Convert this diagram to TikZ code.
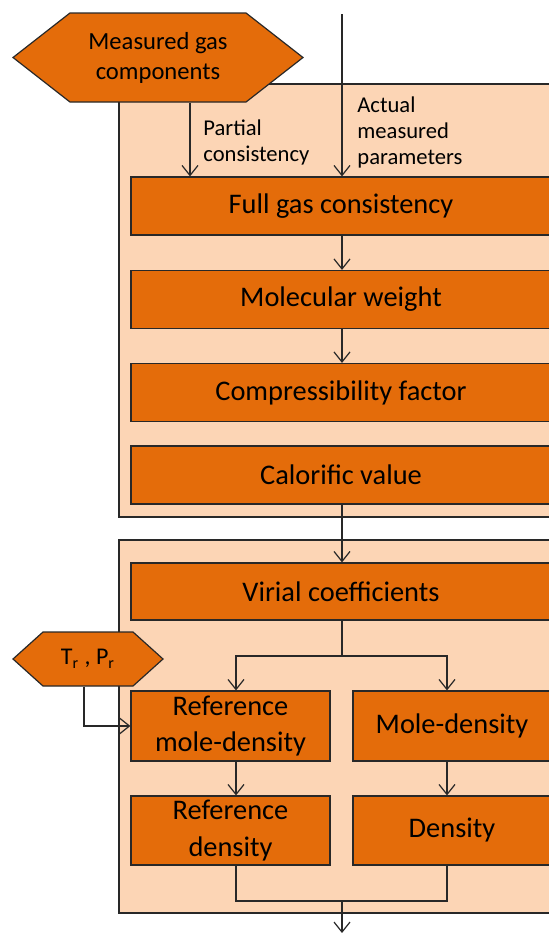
\documentclass[tikz,border=0pt]{standalone}
\usepackage{fontspec}
\setmainfont{Carlito}
\usetikzlibrary{arrows.meta,calc,positioning,shapes.symbols}
\definecolor{gasorange}{RGB}{228,108,10}
\definecolor{gaspeach}{RGB}{252,213,181}
\definecolor{gasline}{RGB}{40,40,40}

\begin{document}
\begin{tikzpicture}[x=0.5pt,y=-0.5pt,>={Straight Barb[length=5pt,width=8pt]},
 calcbox/.style={draw=gasline,line width=0.6pt,fill=gasorange,inner sep=2pt,align=center,
  font=\fontsize{14.2}{18.4}\selectfont},
 inputhex/.style={shape=signal,signal to=west and east,draw=gasline,line width=0.6pt,
  fill=gasorange,align=center,inner sep=1pt},
 panel/.style={draw=gasline,line width=0.6pt,fill=gaspeach},
 flow/.style={->,gasline,line width=0.6pt},
 wire/.style={gasline,line width=0.6pt},
 note/.style={align=left,anchor=west,inner sep=0pt,font=\fontsize{11.3}{13}\selectfont}]
\useasboundingbox (0,0) rectangle (548,933);
\clip (-2,-2) rectangle (552,937);
% the two shaded stages
\draw[panel] (119,84) rectangle (660,517);
\draw[panel] (119,540) rectangle (660,913);
% inputs
\node[inputhex,signal pointer angle=76,minimum width=145pt,minimum height=44.5pt,
 font=\fontsize{12.3}{15}\selectfont] (meas) at (158,57.5) {Measured gas\\components};
\node[inputhex,signal pointer angle=84,minimum width=75pt,minimum height=27pt,
 font=\fontsize{12}{14}\selectfont] (trpr) at (88,659) {T\textsubscript{r} , P\textsubscript{r}};
\coordinate (top) at (342,14);
% first stage
\node[calcbox,minimum width=210pt,minimum height=29pt] (fullgas) at (341,206) {Full gas consistency};
\node[calcbox,minimum width=210pt,minimum height=29pt] (molweight) at (341,299.5) {Molecular weight};
\node[calcbox,minimum width=210pt,minimum height=29pt] (compress) at (341,392.5) {Compressibility factor};
\node[calcbox,minimum width=210pt,minimum height=29pt] (calor) at (341,475) {Calorific value};
% second stage
\node[calcbox,minimum width=210pt,minimum height=28.5pt] (virial) at (341,591.5) {Virial coefficients};
\node[calcbox,minimum width=99.5pt,minimum height=35pt] (refmole) at (230.5,726) {Reference\\mole-density};
\node[calcbox,minimum width=99pt,minimum height=35pt] (moledens) at (452,726) {Mole-density};
\node[calcbox,minimum width=99.5pt,minimum height=34.5pt] (refdens) at (230.5,830.5) {Reference\\density};
\node[calcbox,minimum width=99pt,minimum height=34.5pt] (dens) at (452,830.5) {Density};
% labels
\node[note] (partlab) at (203,142) {Partial\\consistency};
\node[note] (actlab) at (357,132) {Actual\\measured\\parameters};
% connectors
\coordinate (partial) at ($(meas.south)+(32,0)$);
\coordinate (spine) at (342,0);
\draw[flow] (partial) -- (partial |- fullgas.north);
\draw[flow] (top) -- (top |- fullgas.north);
\draw[flow] (spine |- fullgas.south) -- (spine |- molweight.north);
\draw[flow] (spine |- molweight.south) -- (spine |- compress.north);
\draw[flow] (spine |- calor.south) -- (spine |- virial.north);
\coordinate (split) at (342,656);
\coordinate (brL) at (236,656);
\coordinate (brR) at (447,656);
\draw[wire] (spine |- virial.south) -- (split);
\draw[flow] (split) -- (brL) -- (brL |- refmole.north);
\draw[flow] (split) -- (brR) -- (brR |- moledens.north);
\draw[flow] (brL |- refmole.south) -- (brL |- refdens.north);
\draw[flow] (brR |- moledens.south) -- (brR |- dens.north);
\coordinate (merge) at (342,901);
\coordinate (out) at (342,933);
\draw[wire] (brL |- refdens.south) |- (merge) -| (brR |- dens.south);
\draw[flow] (merge) -- (out);
\coordinate (trfoot) at ($(trpr.south)+(-4,0)$);
\draw[flow] (trfoot) |- (refmole.west);
\end{tikzpicture}
\end{document}
